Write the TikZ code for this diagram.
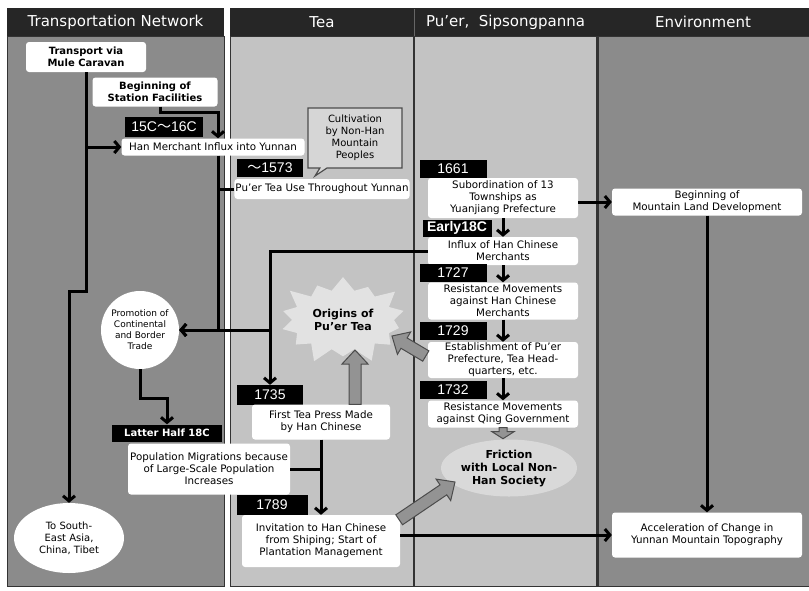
\documentclass[tikz,border=0pt]{standalone}
\usepackage{fontspec}
\setmainfont{DejaVu Sans}
\newfontfamily\arial{Liberation Sans}
\newfontfamily\cjk{Noto Sans CJK JP}
\usepackage{tikz}
\usetikzlibrary{calc}
\usetikzlibrary{arrows.meta}
\usetikzlibrary{shapes.geometric,shapes.symbols,shapes.callouts}
\definecolor{hdrgray}{HTML}{262626}
\definecolor{darkcol}{HTML}{8B8B8B}
\definecolor{lightcol}{HTML}{C3C3C3}
\definecolor{burstgray}{HTML}{E2E2E2}
\definecolor{fatgray}{HTML}{939393}
\newcommand{\fatarrow}[5]{\coordinate (fh) at ($(#2)!#5!(#1)$); \filldraw[fatarr] ($(#1)!#3!90:(#2)$) -- ($(fh)!#3!90:(#2)$) -- ($(fh)!#4!90:(#2)$) -- (#2) -- ($(fh)!#4!-90:(#2)$) -- ($(fh)!#3!-90:(#2)$) -- ($(#1)!#3!-90:(#2)$) -- cycle;}
\tikzset{
  hdr/.style={fill=hdrgray, text=white, minimum height=28pt, inner sep=0pt, font=\fontsize{15}{18}\selectfont},
  txt/.style={fill=white, rounded corners=3pt, align=center, inner sep=1pt, font=\fontsize{10.3}{12}\selectfont},
  btxt/.style={txt, font=\fontsize{10}{12}\selectfont\bfseries},
  yr/.style={fill=black, text=white, inner sep=0pt, minimum width=67pt, minimum height=18pt, font=\arial\fontsize{14}{14}\selectfont},
  conn/.style={line width=3pt},
  arr/.style={line width=3pt, -{Straight Barb[length=5pt,width=12pt]}},
  fatarr/.style={fill=fatgray, draw=black!70, line width=1pt}
}

\begin{document}
\begin{tikzpicture}[x=1pt,y=-1pt]
    \useasboundingbox (0,0) rectangle (809,590);
    \fill[white] (0,0) rectangle (809,590);
    %columns
    \filldraw[fill=darkcol, draw=black!80] (7,36) rectangle (224,586);
    \filldraw[fill=lightcol, draw=black!80] (230,36) rectangle (414,586);
    \filldraw[fill=lightcol, draw=black!80] (414,36) rectangle (597,586);
    \filldraw[fill=darkcol, draw=black!80] (597,36) rectangle (809,586);
    \draw[black!80, line width=2pt] (414,36) -- (414,586);
    \draw[black!80, line width=3pt] (597,36) -- (597,586);
    \node[hdr, minimum width=217pt] (hnet) at (115.5,22) {Transportation Network};
    \node[hdr, minimum width=184pt] (htea) at (322,22) {Tea};
    \node[hdr, minimum width=183pt] (hpuer) at (505.5,22) {Pu'er,\ \ Sipsongpanna};
    \node[hdr, minimum width=212pt] (henv) at (703,22) {Environment};
    \draw[black!60] (414,9) -- (414,36);

    %transportation network
    \node[btxt, minimum width=120pt, minimum height=30pt] (mule) at (86,57) {Transport via\\Mule Caravan};
    \node[btxt, minimum width=125pt, minimum height=29pt] (station) at (155,92) {Beginning of\\Station Facilities};
    \node[yr, minimum width=78pt, minimum height=20pt] (y15c) at (164,127) {15C{\cjk ～}16C};
    \node[txt, minimum width=183pt, minimum height=17pt] (han) at (213,147) {Han Merchant Influx into Yunnan};
    \node[circle, fill=white, minimum size=78pt, inner sep=0pt, align=center, font=\fontsize{9}{11}\selectfont] (promo) at (140,330) {Promotion of\\Continental\\and Border\\Trade};
    \node[yr, minimum width=110pt, minimum height=17pt, font=\fontsize{10}{12}\selectfont\bfseries] (latter) at (167,433) {Latter Half 18C};
    \node[txt, minimum width=162pt, minimum height=51pt] (popmig) at (209,469) {Population Migrations because\\of Large-Scale Population\\Increases};
    \node[ellipse, fill=white, minimum width=110pt, minimum height=70pt, inner sep=0pt, align=center, font=\fontsize{10}{12}\selectfont] (sea) at (69,538) {To South-\\East Asia,\\China, Tibet};

    %tea
    \node[rectangle callout, callout absolute pointer={(315,176)}, fill=black!16, draw=black!70, line width=1.2pt, align=center, minimum width=94pt, minimum height=60pt, inner sep=1pt, font=\fontsize{10}{12}\selectfont] (cult) at (355,138) {Cultivation\\by Non-Han\\Mountain\\Peoples};
    \node[yr, minimum width=66pt] (y1573) at (270,168) {{\cjk ～}1573};
    \node[txt, minimum width=172pt, minimum height=20pt] (puse) at (322,189) {Pu'er Tea Use Throughout Yunnan};
    \node[starburst, fill=burstgray, minimum width=138pt, minimum height=96pt, starburst points=14, starburst point height=18pt, align=center, font=\fontsize{11}{13}\selectfont\bfseries] (origins) at (343,320) {Origins of\\Pu'er Tea};
    \node[yr, minimum width=66pt, minimum height=20pt] (y1735) at (270,395) {1735};
    \node[txt, minimum width=138pt, minimum height=35pt] (press) at (321,422) {First Tea Press Made\\by Han Chinese};
    \node[yr, minimum width=71pt, minimum height=20pt] (y1789) at (272,505) {1789};
    \node[txt, minimum width=158pt, minimum height=52pt] (invite) at (321,541) {Invitation to Han Chinese\\from Shiping; Start of\\Plantation Management};

    %pu'er, sipsongpanna
    \node[yr] (y1661) at (453,169) {1661};
    \node[txt, minimum width=150pt, minimum height=40pt] (subord) at (503,198) {Subordination of 13\\Townships as\\Yuanjiang Prefecture};
    \node[yr, minimum width=69pt, minimum height=17pt, font=\arial\fontsize{14}{14}\selectfont\bfseries] (yearly) at (457,228) {Early18C};
    \node[txt, minimum width=150pt, minimum height=28pt] (influx) at (503,251) {Influx of Han Chinese\\Merchants};
    \node[yr] (y1727) at (453,273) {1727};
    \node[txt, minimum width=150pt, minimum height=37pt] (resist) at (503,301) {Resistance Movements\\against Han Chinese\\Merchants};
    \node[yr] (y1729) at (453,331) {1729};
    \node[txt, minimum width=150pt, minimum height=36pt] (estab) at (503,360) {Establishment of Pu'er\\Prefecture, Tea Head-\\quarters, etc.};
    \node[yr] (y1732) at (453,390) {1732};
    \node[txt, minimum width=150pt, minimum height=27pt] (qing) at (503,414) {Resistance Movements\\against Qing Government};
    \node[ellipse, fill=black!15, minimum width=112pt, minimum height=57pt, inner sep=0pt, align=center, font=\fontsize{11}{13}\selectfont\bfseries] (friction) at (509,468) {Friction\\with Local Non-\\Han Society};

    %environment
    \node[txt, minimum width=190pt, minimum height=27pt] (mland) at (707,202) {Beginning of\\Mountain Land Development};
    \node[txt, minimum width=190pt, minimum height=45pt] (accel) at (707,535) {Acceleration of Change in\\Yunnan Mountain Topography};

    %connectors
    \coordinate (jog) at (69,291);
    \coordinate (trunk) at ([xshift=5pt]han.south);
    \draw[arr] (mule.south) |- (jog) -- (sea.north);
    \draw[arr] (mule.south |- han.west) -- (han.west);
    \draw[arr] ([xshift=5pt]station.south) -- ++(0,6) -| ([xshift=5pt]han.north);
    \draw[arr] (trunk) |- (promo.east);
    \draw[conn] (puse.west) -- (puse.west -| trunk);
    \draw[arr] (influx.west) -| (y1735.north);
    \draw[arr] (promo.east -| y1735.north) -- (promo.east);
    \draw[arr] (promo.south) -- ++(0,29) -| (latter.north);
    \draw[conn] (popmig.east) -- (popmig.east -| press.south);
    \draw[arr] (press.south) -- (invite.north);
    \draw[arr] (accel.west -| invite.east) -- (accel.west);
    \draw[arr] (mland.west -| subord.east) -- (mland.west);
    \draw[arr] (mland.south) -- (accel.north);
    \draw[arr] (subord.south) -- (influx.north);
    \draw[arr] (influx.south) -- (resist.north);
    \draw[arr] (resist.south) -- (estab.north);
    \draw[arr] (estab.south) -- (qing.north);

    %block arrows
    \coordinate (f1a) at ($(press.north)+(34,0)$);
    \coordinate (f1b) at (355,350);
    \coordinate (f2a) at ($(estab.west)+(-2,-4)$);
    \coordinate (f2b) at (392,336);
    \coordinate (f3a) at ($(invite.north east)+(-1,5)$);
    \coordinate (f3b) at (455,482);
    \coordinate (f4b) at ($(qing.south)+(0,11)$);
    \fatarrow{f1a}{f1b}{6pt}{13pt}{14pt}
    \fatarrow{f2a}{f2b}{6pt}{13pt}{14pt}
    \fatarrow{f3a}{f3b}{6pt}{13pt}{14pt}
    \fatarrow{qing.south}{f4b}{4pt}{11pt}{7pt}
\end{tikzpicture}
\end{document}
